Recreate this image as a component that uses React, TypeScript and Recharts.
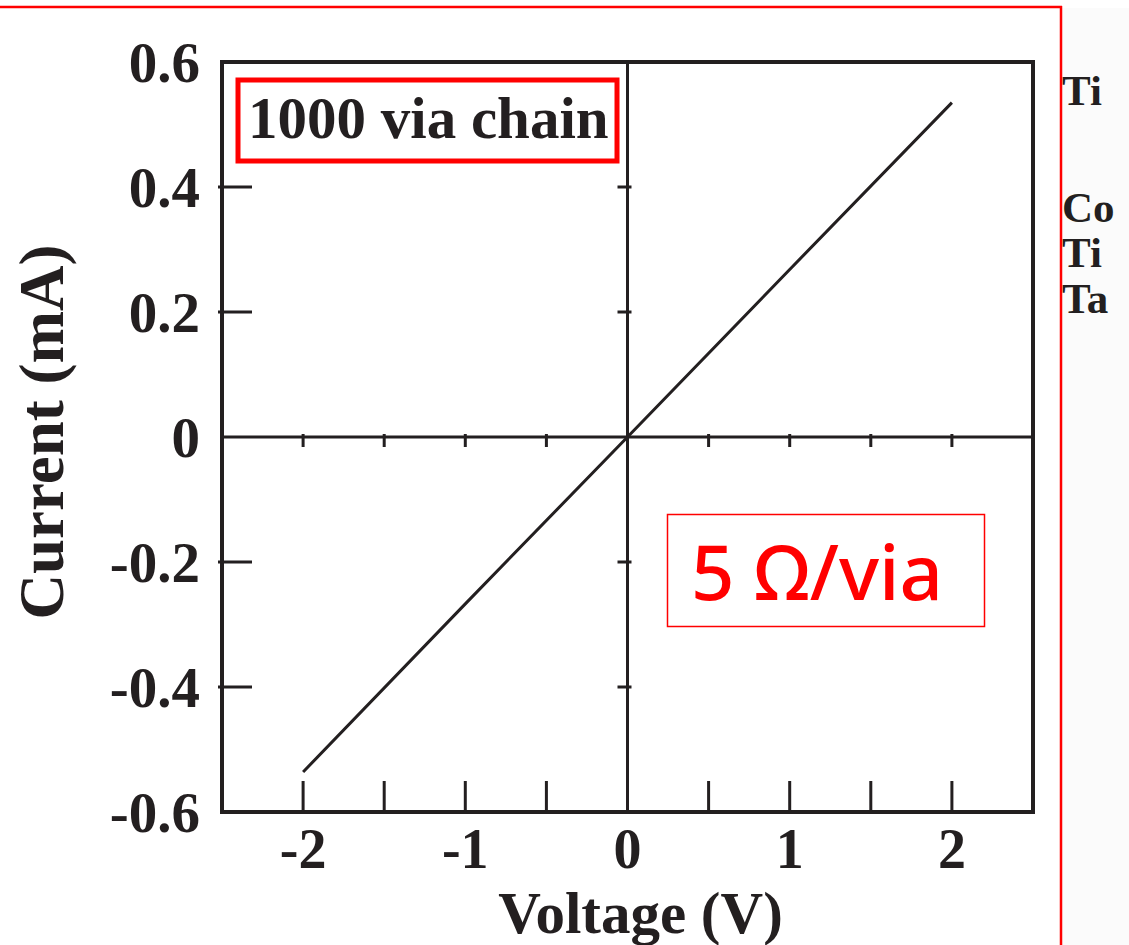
import React from 'react';
import { LineChart, Line, XAxis, YAxis, ReferenceLine, ReferenceArea, ReferenceDot } from 'recharts';

const voltage = [-2, -1, 0, 1, 2];
const current = [-0.536, -0.267, 0, 0.268, 0.535];
const xTicks = [-2, -1.5, -1, -0.5, 0, 0.5, 1, 1.5, 2];
const xLabelTicks = [-2, -1, 0, 1, 2];
const yTicks = [-0.6, -0.4, -0.2, 0, 0.2, 0.4, 0.6];
const centerXTicks = [-2, -1.5, -1, -0.5, 0.5, 1, 1.5, 2];
const centerYTicks = [-0.4, -0.2, 0.2, 0.4];
const sideLabels = ['Ti', 'Co', 'Ti', 'Ta'];

const data = voltage.map((v, k) => ({ v, i: current[k] }));

const INK = '#231f20';
const SERIF = '"Liberation Serif", "Times New Roman", serif';

function XTick(props: any) {
  const { x, y, payload } = props;
  const val = payload.value;
  const showLabel = xLabelTicks.includes(val);
  return (
    <g>
      {val !== 0 && <line x1={x} x2={x} y1={y} y2={y - 31} stroke={INK} strokeWidth={3} />}
      {showLabel && (
        <text x={x} y={y + 56} textAnchor="middle" fontFamily={SERIF} fontWeight="bold" fontSize={56} fill={INK}>
          {String(val)}
        </text>
      )}
    </g>
  );
}

function YTick(props: any) {
  const { x, y, payload } = props;
  const val = payload.value;
  const inner = Math.abs(val) !== 0.6 && val !== 0;
  return (
    <g>
      {inner && <line x1={x - 4} x2={x + 30} y1={y} y2={y} stroke={INK} strokeWidth={3} />}
      <text x={x - 22} y={y + 20} textAnchor="end" fontFamily={SERIF} fontWeight="bold" fontSize={57} fill={INK}>
        {String(val)}
      </text>
    </g>
  );
}

function YTitle(props: any) {
  const vb = props.viewBox;
  const cx = vb.x + 63;
  const cy = 432;
  return (
    <text
      x={cx}
      y={cy}
      transform={`rotate(-90 ${cx} ${cy})`}
      textAnchor="middle"
      fontFamily={SERIF}
      fontWeight="bold"
      fontSize={63}
      fill={INK}
    >
      Current (mA)
    </text>
  );
}

function XTitle(props: any) {
  const vb = props.viewBox;
  return (
    <text x={vb.x + vb.width / 2 + 13} y={vb.y + 121} textAnchor="middle" fontFamily={SERIF} fontWeight="bold" fontSize={59} fill={INK}>
      Voltage (V)
    </text>
  );
}

const vTick = (p: any) => <line x1={p.cx} x2={p.cx} y1={p.cy - 3} y2={p.cy + 10} stroke={INK} strokeWidth={3} />;
const hTick = (p: any) => <line x1={p.cx - 10} x2={p.cx + 4} y1={p.cy} y2={p.cy} stroke={INK} strokeWidth={3} />;

export default function App() {
  return (
    <div style={{ position: 'absolute', left: 0, top: 0, width: 1129, height: 945, background: '#fff', overflow: 'hidden' }}>
      <LineChart width={1129} height={945} data={data} margin={{ top: 62, right: 96, bottom: 0, left: 0 }}>
        <XAxis
          type="number"
          dataKey="v"
          domain={[-2.5, 2.5]}
          ticks={xTicks}
          interval={0}
          height={133}
          axisLine={false}
          tickLine={false}
          tickSize={0}
          tickMargin={0}
          tick={<XTick />}
          label={{ content: <XTitle /> }}
        />
        <YAxis
          type="number"
          domain={[-0.6, 0.6]}
          ticks={yTicks}
          interval={0}
          width={222}
          axisLine={false}
          tickLine={false}
          tickSize={0}
          tickMargin={0}
          tick={<YTick />}
          label={{ content: <YTitle /> }}
        />
        <ReferenceLine x={0} stroke={INK} strokeWidth={3} />
        <ReferenceLine y={0} stroke={INK} strokeWidth={3} />
        {centerXTicks.map((t) => (
          <ReferenceDot key={'cx' + t} x={t} y={0} shape={vTick} />
        ))}
        {centerYTicks.map((t) => (
          <ReferenceDot key={'cy' + t} x={0} y={t} shape={hTick} />
        ))}
        <Line dataKey="i" stroke={INK} strokeWidth={3} dot={false} isAnimationActive={false} type="linear" />
        <ReferenceArea x1={-2.5} x2={2.5} y1={-0.6} y2={0.6} fill="none" fillOpacity={0} stroke={INK} strokeWidth={4} ifOverflow="visible" />
      </LineChart>
      <svg width={1129} height={945} style={{ position: 'absolute', left: 0, top: 0, pointerEvents: 'none' }}>
        <rect x={1062} y={8} width={67} height={937} fill="#fbfbfb" />
        <line x1={0} x2={1062} y1={7} y2={7} stroke="#ff0000" strokeWidth={2.5} />
        <line x1={1061} x2={1061} y1={6} y2={945} stroke="#ff0000" strokeWidth={2.5} />
        <rect x={238} y={80} width={379} height={81} fill="none" stroke="#ff0000" strokeWidth={5} />
        <text x={248} y={138} fontFamily={SERIF} fontWeight="bold" fontSize={59} fill={INK}>
          1000 via chain
        </text>
        <rect x={667.5} y={514.5} width={317} height={112} fill="#fff" stroke="#ff0000" strokeWidth={1.5} />
        <text x={691} y={600} fontFamily='"Noto Sans", sans-serif' fontWeight={500} fontSize={76} fill="#ff0000">
          5 Ω/via
        </text>
        {sideLabels.map((s, k) => (
          <text key={k} x={1062} y={[105, 222, 267, 313][k]} fontFamily={SERIF} fontWeight="bold" fontSize={43} fill={INK}>
            {s}
          </text>
        ))}
      </svg>
    </div>
  );
}
